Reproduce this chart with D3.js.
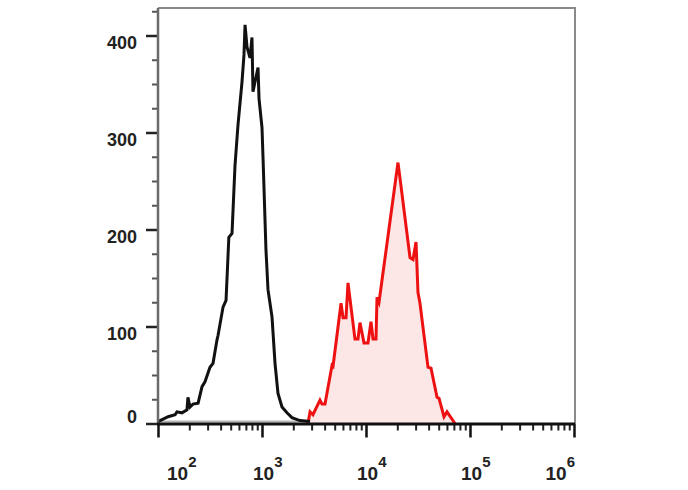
<!DOCTYPE html>
<html>
<head>
<meta charset="utf-8">
<script src="https://cdn.jsdelivr.net/npm/d3@7"></script>
<style>
  html, body { margin: 0; padding: 0; background: #fff; }
  svg { display: block; }
  text { font-family: Arial, "Liberation Sans", sans-serif; fill: #222; font-weight: bold; }
</style>
</head>
<body>
<svg id="chart" width="688" height="490"></svg>
<script>
// ---- data ----
// Isotype control (black histogram): fluorescence intensity and event count
const controlIntensity = [100, 125, 146, 152, 170, 190, 194, 203, 217, 243, 265, 283, 316, 338, 369, 378, 422, 451, 480, 515, 550, 588, 642, 671, 687, 718, 767, 801, 819, 916, 936, 1000, 1023, 1092, 1142, 1248, 1334, 1425, 1557, 1739, 1941, 2317, 2897];
const controlCount     = [2, 7, 9, 12, 11, 14, 27, 17, 20, 21, 38, 43, 58, 62, 86, 91, 120, 127, 192, 196, 266, 308, 352, 380, 411, 388, 377, 398, 342, 367, 335, 305, 274, 179, 138, 110, 62, 31, 17, 11, 6, 3, 2];

// Stained sample (red filled histogram)
const stainedIntensity = [2768, 2897, 3090, 3612, 3776, 4036, 4714, 4819, 5754, 6012, 6425, 6714, 7834, 8375, 8750, 9567, 10450, 11170, 11680, 12480, 12760, 13340, 20300, 21230, 26490, 28320, 30270, 31620, 33040, 39460, 42170, 48190, 50350, 56230, 60100, 71740];
const stainedCount     = [0, 12, 9, 24, 20, 20, 60, 59, 124, 109, 109, 145, 87, 87, 104, 83, 83, 105, 87, 87, 130, 125, 269, 253, 171, 169, 187, 135, 124, 58, 57, 27, 26, 7, 12, 0];

// faint grey baseline trace at the left of the plot
const baselineIntensity = [100, 2800];
const baselineCount = [2, 2];

// axis ticks
const yMajorTicks = [0, 100, 200, 300, 400];
const yMinorTicks = [25, 50, 75, 125, 150, 175, 225, 250, 275, 325, 350, 375, 425];
const xDecades = [100, 1000, 10000, 100000, 1000000];
const xDecadeExponents = ["2", "3", "4", "5", "6"];

// ---- layout ----
const svg = d3.select("#chart");
const pLeft = 158, pRight = 574, pBottom = 423.5, pTop = 8;

const x = d3.scaleLog().domain([100, 1000000]).range([pLeft, pRight]);
const y = d3.scaleLinear().domain([0, 400]).range([pBottom, 35.5]);

const controlData = controlIntensity.map((v, i) => ({ v, c: controlCount[i] }));
const stainedData = stainedIntensity.map((v, i) => ({ v, c: stainedCount[i] }));
const baselineData = baselineIntensity.map((v, i) => ({ v, c: baselineCount[i] }));

// frame (top + right), grey
svg.append("path")
  .attr("d", `M${pLeft},${pTop}H${pRight + 1}V${pBottom}`)
  .attr("fill", "none").attr("stroke", "#8a8a8a").attr("stroke-width", 2);

// grey baseline
svg.append("path")
  .datum(baselineData)
  .attr("d", d3.line().x(d => x(d.v)).y(d => y(d.c)))
  .attr("fill", "none").attr("stroke", "#b5b5b5").attr("stroke-width", 2);

// stained histogram (fill + red line)
svg.append("path")
  .datum(stainedData)
  .attr("d", d3.area().x(d => x(d.v)).y0(y(0)).y1(d => y(d.c)))
  .attr("fill", "#fde6e6").attr("stroke", "none");
svg.append("path")
  .datum(stainedData)
  .attr("d", d3.line().x(d => x(d.v)).y(d => y(d.c)))
  .attr("fill", "none").attr("stroke", "#ee1111").attr("stroke-width", 3)
  .attr("stroke-linejoin", "miter");

// control histogram (black line)
svg.append("path")
  .datum(controlData)
  .attr("d", d3.line().x(d => x(d.v)).y(d => y(d.c)))
  .attr("fill", "none").attr("stroke", "#111").attr("stroke-width", 3)
  .attr("stroke-linejoin", "miter");

// ---- y axis ----
svg.append("g").attr("transform", `translate(${pLeft},0)`)
  .call(d3.axisLeft(y).tickValues(yMajorTicks).tickSize(12).tickFormat(""))
  .call(g => g.select(".domain").remove())
  .call(g => g.selectAll(".tick line").attr("stroke", "#222").attr("stroke-width", 2.5));
svg.append("g").attr("transform", `translate(${pLeft},0)`)
  .call(d3.axisLeft(y).tickValues(yMinorTicks).tickSize(6).tickFormat(""))
  .call(g => g.select(".domain").remove())
  .call(g => g.selectAll(".tick line").attr("stroke", "#555").attr("stroke-width", 2));
svg.append("line")
  .attr("x1", pLeft).attr("x2", pLeft).attr("y1", pTop).attr("y2", pBottom)
  .attr("stroke", "#6a6a6a").attr("stroke-width", 2.5);

svg.append("g").selectAll("text")
  .data(yMajorTicks)
  .join("text")
  .attr("x", 137)
  .attr("y", d => d === 0 ? y(d) - 1 : y(d) + 13.5)
  .attr("text-anchor", "end")
  .attr("font-size", 18)
  .text(d => d);

// ---- x axis ----
const xMinor = [];
for (let e = 2; e < 6; e++) for (let m = 2; m <= 9; m++) xMinor.push(m * Math.pow(10, e));
svg.append("g").attr("transform", `translate(0,${pBottom})`)
  .call(d3.axisBottom(x).tickValues(xMinor).tickSize(7).tickFormat(""))
  .call(g => g.select(".domain").remove())
  .call(g => g.selectAll(".tick line").attr("stroke", "#222").attr("stroke-width", 2));
svg.append("g").attr("transform", `translate(0,${pBottom})`)
  .call(d3.axisBottom(x).tickValues(xDecades).tickSize(14).tickFormat(""))
  .call(g => g.select(".domain").remove())
  .call(g => g.selectAll(".tick line").attr("stroke", "#111").attr("stroke-width", 2.5));
svg.append("line")
  .attr("x1", pLeft - 1).attr("x2", pRight + 1).attr("y1", pBottom + 0.5).attr("y2", pBottom + 0.5)
  .attr("stroke", "#111").attr("stroke-width", 3);

const xl = svg.append("g").selectAll("text")
  .data(xDecades)
  .join("text")
  .attr("x", (d, i) => i === 0 ? x(d) + 9 : (i === xDecades.length - 1 ? x(d) + 1 : x(d) - 9))
  .attr("y", 480)
  .attr("text-anchor", (d, i) => i === xDecades.length - 1 ? "end" : "start")
  .attr("font-size", 19);
xl.append("tspan").text("10");
xl.append("tspan").attr("dy", -13).attr("font-size", 15).text((d, i) => xDecadeExponents[i]);
</script>
</body>
</html>
